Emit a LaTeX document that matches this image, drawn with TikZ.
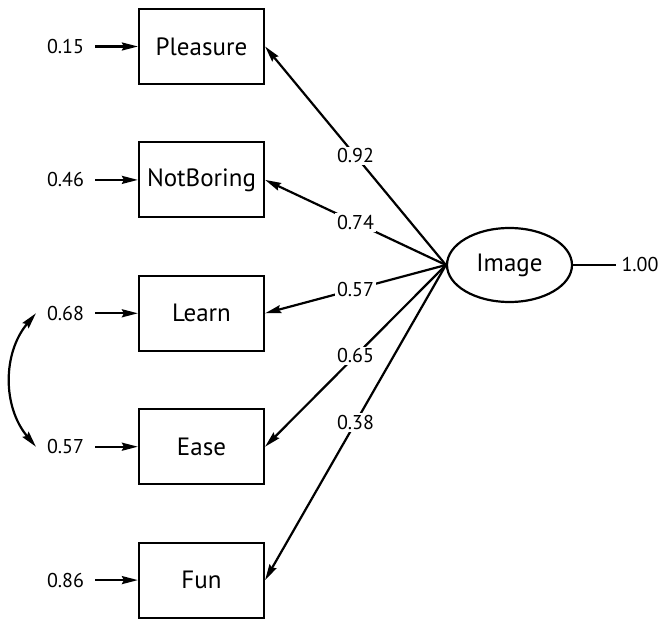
\documentclass[tikz,border=0pt]{standalone}
\usepackage{fontspec}
\setmainfont{PT Sans}
\usetikzlibrary{shapes.geometric,arrows.meta}
\begin{document}
\begin{tikzpicture}[x=1pt,y=-1pt,line width=2.2pt,
    obs/.style={draw,minimum width=125pt,minimum height=75pt,font=\fontsize{25}{30}\selectfont},
    lat/.style={draw,ellipse,minimum width=125pt,minimum height=74pt,font=\fontsize{25}{30}\selectfont},
    num/.style={font=\fontsize{20}{24}\selectfont,inner sep=2pt},
    err/.style={num,minimum width=57pt},
    head/.style={Stealth[length=16pt,width=8pt,inset=2pt]},
    tip/.style={-{Stealth[length=16pt,width=8pt,inset=2pt]}}]
  \useasboundingbox (0,0) rectangle (659,620);
  \node[lat] (image) at (509.5,265) {Image};
  \node[num,inner sep=4pt] (resid) at (640,265) {1.00};
  \draw (image) -- (resid);
  \foreach \n/\t/\e/\l [count=\i from 0] in
    {pleasure/Pleasure/0.15/0.92,notboring/NotBoring/0.46/0.74,
     learn/Learn/0.68/0.57,ease/Ease/0.57/0.65,fun/Fun/0.86/0.38}{
    \node[obs] (\n) at (201.5,{46.5+133.4*\i}) {\t};
    \node[err] (e\n) at (65.5,{46.5+133.4*\i}) {\e};
    \draw[tip] (e\n) -- (\n);
    \draw[tip] (image.west) -- node[num,fill=white] {\l} (\n.east);
  }
  % correlated errors
  \draw[{Stealth[length=16pt,width=8pt,inset=2pt]}-{Stealth[length=16pt,width=8pt,inset=2pt]}]
    (elearn.west) to[bend right=40] (eease.west);
\end{tikzpicture}
\end{document}
